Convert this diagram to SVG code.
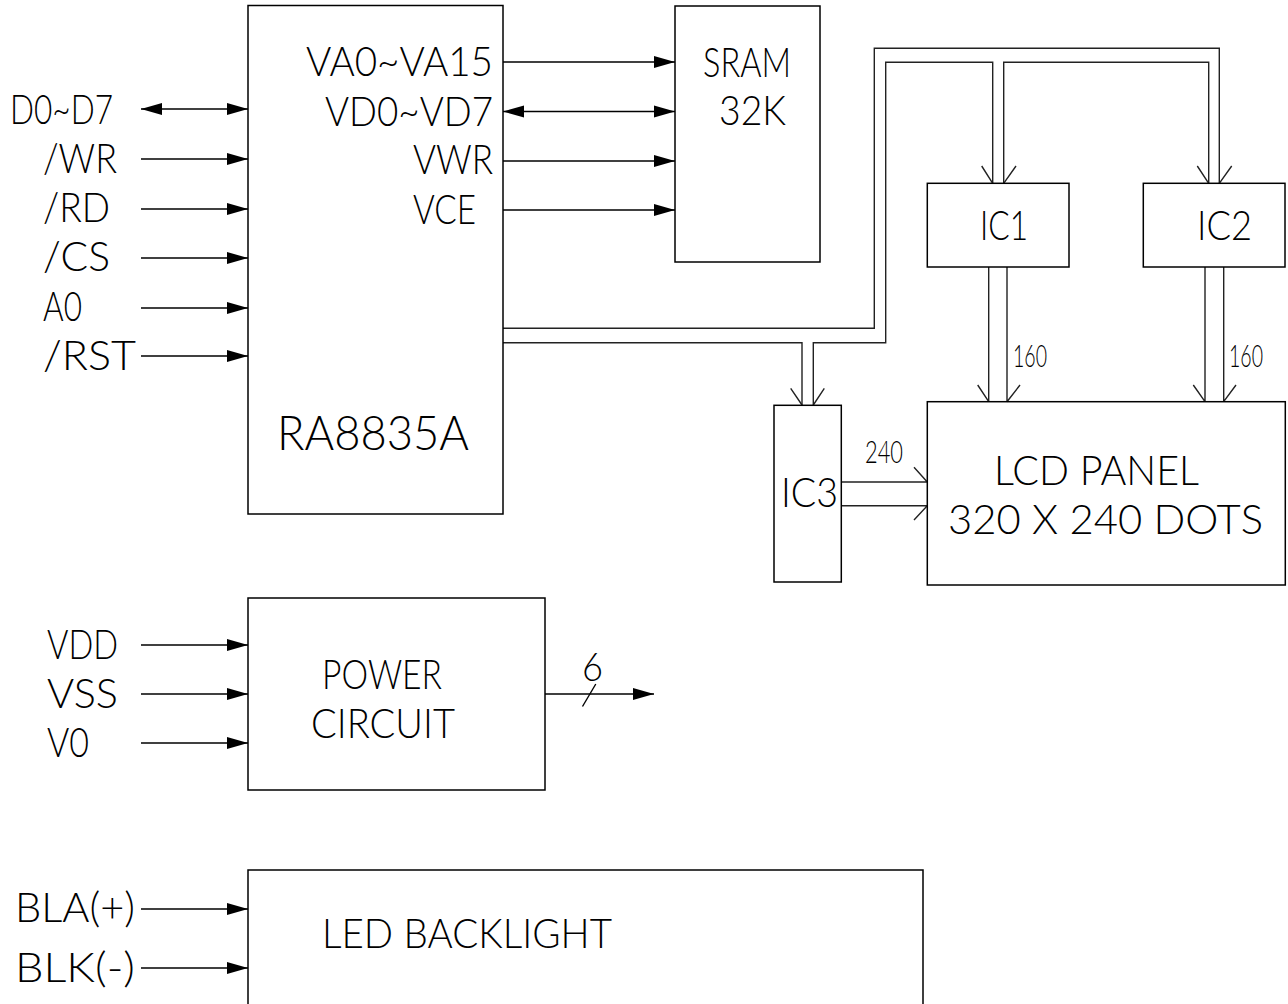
<svg xmlns="http://www.w3.org/2000/svg" width="1288" height="1004" viewBox="0 0 1288 1004">
<style>
  .box{fill:none;stroke:#000;stroke-width:1.5}
  .w{fill:none;stroke:#000;stroke-width:1.4}
  .bus{fill:none;stroke:#222;stroke-width:1.4}
  text{font-family:Lato,"DejaVu Sans",sans-serif;font-weight:300;fill:#000}
  .t30{font-size:42px}
  .t34{font-size:47px}
  .t22{font-size:31px}
  .t27{font-size:40px}
</style>
<defs>
  <marker id="ah" markerUnits="userSpaceOnUse" markerWidth="22" markerHeight="14" refX="21" refY="6.5" orient="auto-start-reverse">
    <path d="M0,0.5 L21,6.5 L0,12.5 z" fill="#000"/>
  </marker>
</defs>
<rect width="1288" height="1004" fill="#fff"/>

<g id="connectors">
  <line class="w" x1="141" y1="109" x2="248" y2="109" marker-start="url(#ah)" marker-end="url(#ah)"/>
  <line class="w" x1="141" y1="159" x2="248" y2="159" marker-end="url(#ah)"/>
  <line class="w" x1="141" y1="209" x2="248" y2="209" marker-end="url(#ah)"/>
  <line class="w" x1="141" y1="258" x2="248" y2="258" marker-end="url(#ah)"/>
  <line class="w" x1="141" y1="308" x2="248" y2="308" marker-end="url(#ah)"/>
  <line class="w" x1="141" y1="356" x2="248" y2="356" marker-end="url(#ah)"/>
  <line class="w" x1="503" y1="62" x2="675" y2="62" marker-end="url(#ah)"/>
  <line class="w" x1="503" y1="111.5" x2="675" y2="111.5" marker-start="url(#ah)" marker-end="url(#ah)"/>
  <line class="w" x1="503" y1="161" x2="675" y2="161" marker-end="url(#ah)"/>
  <line class="w" x1="503" y1="210" x2="675" y2="210" marker-end="url(#ah)"/>
  <path class="bus" d="M503,328.3 H874.3 V48.3 H1219.3 V183.3"/>
  <path class="bus" d="M503,342.7 H802 V405"/>
  <path class="bus" d="M813.3,405 V342.7 H885.7 V62.3 H992.7 V183.3"/>
  <path class="bus" d="M1003.7,183.3 V62.3 H1208.7 V183.3"/>
  <path class="bus" d="M981.7,166 L992.7,183.3 M1016,166 L1003.7,183.3"/>
  <path class="bus" d="M1197.3,166 L1208.7,183.3 M1231.7,166 L1219.3,183.3"/>
  <path class="bus" d="M790.7,388.3 L802,405 M824.3,388.3 L813.3,405"/>
  <path class="bus" d="M988.7,267 V401.7 M1007,267 V401.7 M977.7,385 L988.7,401.7 M1020,385 L1007,401.7"/>
  <path class="bus" d="M1205,267 V401.7 M1223.7,267 V401.7 M1193.3,385 L1205,401.7 M1236,385 L1223.7,401.7"/>
  <path class="bus" d="M841.3,482 H927.3 M841.3,505.7 H927.3 M914,467.3 L927.3,482 M914,520 L927.3,505.7"/>
  <line class="w" x1="141" y1="645" x2="248" y2="645" marker-end="url(#ah)"/>
  <line class="w" x1="141" y1="694" x2="248" y2="694" marker-end="url(#ah)"/>
  <line class="w" x1="141" y1="743" x2="248" y2="743" marker-end="url(#ah)"/>
  <line class="w" x1="545" y1="694" x2="654" y2="694" marker-end="url(#ah)"/>
  <line class="w" x1="582.5" y1="706.5" x2="595.8" y2="684"/>
  <line class="w" x1="141" y1="909" x2="248" y2="909" marker-end="url(#ah)"/>
  <line class="w" x1="141" y1="968" x2="248" y2="968" marker-end="url(#ah)"/>
</g>

<g id="inputs">
  <text class="t30" x="10" y="124" textLength="103" lengthAdjust="spacingAndGlyphs">D0~D7</text>
  <text class="t30" x="43" y="173" textLength="74" lengthAdjust="spacingAndGlyphs">/WR</text>
  <text class="t30" x="43" y="222" textLength="67" lengthAdjust="spacingAndGlyphs">/RD</text>
  <text class="t30" x="43" y="271" textLength="67" lengthAdjust="spacingAndGlyphs">/CS</text>
  <text class="t30" x="43" y="321" textLength="39" lengthAdjust="spacingAndGlyphs">A0</text>
  <text class="t30" x="43" y="370" textLength="93" lengthAdjust="spacingAndGlyphs">/RST</text>
  <text class="t30" x="47" y="659" textLength="71" lengthAdjust="spacingAndGlyphs">VDD</text>
  <text class="t30" x="47" y="708" textLength="71" lengthAdjust="spacingAndGlyphs">VSS</text>
  <text class="t30" x="47" y="757" textLength="42" lengthAdjust="spacingAndGlyphs">V0</text>
  <text class="t30" x="15" y="922" textLength="120" lengthAdjust="spacingAndGlyphs">BLA(+)</text>
  <text class="t30" x="15" y="982" textLength="120" lengthAdjust="spacingAndGlyphs">BLK(-)</text>
  <text class="t27" x="582" y="681" textLength="21" lengthAdjust="spacingAndGlyphs">6</text>
  <text class="t22" x="1013" y="367" textLength="34" lengthAdjust="spacingAndGlyphs">160</text>
  <text class="t22" x="1229" y="367" textLength="34" lengthAdjust="spacingAndGlyphs">160</text>
  <text class="t22" x="865" y="463" textLength="38" lengthAdjust="spacingAndGlyphs">240</text>
</g>

<g id="ra8835a">
  <rect class="box" x="248" y="5.5" width="255" height="508.5"/>
  <text class="t30" x="306" y="76" textLength="187" lengthAdjust="spacingAndGlyphs">VA0~VA15</text>
  <text class="t30" x="325" y="126" textLength="168" lengthAdjust="spacingAndGlyphs">VD0~VD7</text>
  <text class="t30" x="413" y="174" textLength="80" lengthAdjust="spacingAndGlyphs">VWR</text>
  <text class="t30" x="413" y="224" textLength="63" lengthAdjust="spacingAndGlyphs">VCE</text>
  <text class="t34" x="277" y="450" textLength="192" lengthAdjust="spacingAndGlyphs">RA8835A</text>
</g>

<g id="sram">
  <rect class="box" x="675" y="6" width="145" height="256"/>
  <text class="t30" x="703" y="77" textLength="88" lengthAdjust="spacingAndGlyphs">SRAM</text>
  <text class="t30" x="719" y="125" textLength="67" lengthAdjust="spacingAndGlyphs">32K</text>
</g>

<g id="ic1">
  <rect class="box" x="927.3" y="183.3" width="141.7" height="83.7"/>
  <text class="t30" x="980" y="239.5" textLength="48" lengthAdjust="spacingAndGlyphs">IC1</text>
</g>

<g id="ic2">
  <rect class="box" x="1143.3" y="183.3" width="141.7" height="83.7"/>
  <text class="t30" x="1197" y="239.5" textLength="55" lengthAdjust="spacingAndGlyphs">IC2</text>
</g>

<g id="ic3">
  <rect class="box" x="774" y="405.3" width="67.3" height="176.7"/>
  <text class="t30" x="781" y="507" textLength="57" lengthAdjust="spacingAndGlyphs">IC3</text>
</g>

<g id="lcd">
  <rect class="box" x="927.3" y="401.7" width="358" height="183.3"/>
  <text class="t30" x="994" y="485" textLength="205" lengthAdjust="spacingAndGlyphs">LCD PANEL</text>
  <text class="t30" x="948" y="534" textLength="315" lengthAdjust="spacingAndGlyphs">320 X 240 DOTS</text>
</g>

<g id="power">
  <rect class="box" x="248" y="598" width="297" height="192"/>
  <text class="t30" x="322" y="689" textLength="120" lengthAdjust="spacingAndGlyphs">POWER</text>
  <text class="t30" x="311" y="738" textLength="144" lengthAdjust="spacingAndGlyphs">CIRCUIT</text>
</g>

<g id="backlight">
  <path class="box" d="M248,1010 V870 H923 V1010"/>
  <text class="t30" x="322" y="948" textLength="290" lengthAdjust="spacingAndGlyphs">LED BACKLIGHT</text>
</g>
</svg>
